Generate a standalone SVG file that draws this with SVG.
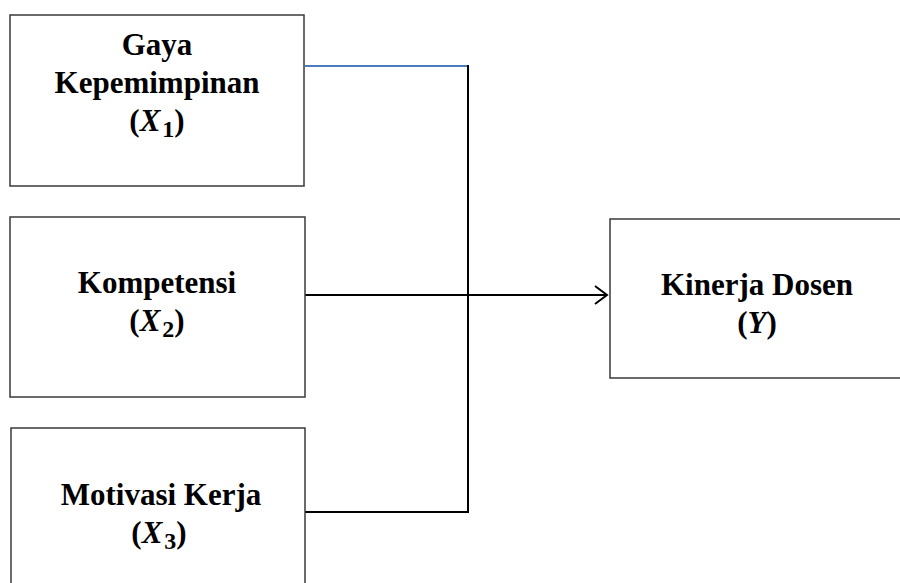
<svg xmlns="http://www.w3.org/2000/svg" width="900" height="583" viewBox="0 0 900 583">
<style>
.box{fill:#fff;stroke:#3a3a3a;stroke-width:1.5}
.t{font-family:"Liberation Serif","Times New Roman",serif;font-weight:bold;font-size:31px;fill:#000;text-anchor:middle}
.v{font-style:italic}
.s{font-size:24px}
.ln{fill:none;stroke:#000;stroke-width:2}
</style>
<defs>
<marker id="arr" markerWidth="16" markerHeight="20" refX="13" refY="10" orient="auto" markerUnits="userSpaceOnUse">
<path d="M1,1 L13,10 L1,19" fill="none" stroke="#000" stroke-width="2"/>
</marker>
</defs>
<g id="connectors">
<line x1="305" y1="66" x2="468" y2="66" stroke="#4a7ebb" stroke-width="2"/>
<line class="ln" x1="468" y1="65" x2="468" y2="513"/>
<line class="ln" x1="305" y1="512" x2="469" y2="512"/>
<line class="ln" x1="305" y1="295" x2="607" y2="295" marker-end="url(#arr)"/>
</g>
<g id="x1">
<rect class="box" x="10" y="15" width="294" height="171"/>
<text class="t" x="157" y="55">Gaya</text>
<text class="t" x="157" y="93">Kepemimpinan</text>
<text class="t" x="157" y="131">(<tspan class="v">X</tspan><tspan class="s" dx="2" dy="6">1</tspan><tspan dy="-6">)</tspan></text>
</g>
<g id="x2">
<rect class="box" x="10" y="217" width="295" height="180"/>
<text class="t" x="157" y="293">Kompetensi</text>
<text class="t" x="157" y="331">(<tspan class="v">X</tspan><tspan class="s" dx="2" dy="6">2</tspan><tspan dy="-6">)</tspan></text>
</g>
<g id="x3">
<rect class="box" x="11" y="428" width="294" height="170"/>
<text class="t" x="161" y="505">Motivasi Kerja</text>
<text class="t" x="159" y="543">(<tspan class="v">X</tspan><tspan class="s" dx="2" dy="6">3</tspan><tspan dy="-6">)</tspan></text>
</g>
<g id="y">
<rect class="box" x="610" y="219" width="300" height="159"/>
<text class="t" x="757" y="295">Kinerja Dosen</text>
<text class="t" x="757" y="333">(<tspan class="v">Y</tspan>)</text>
</g>
</svg>
